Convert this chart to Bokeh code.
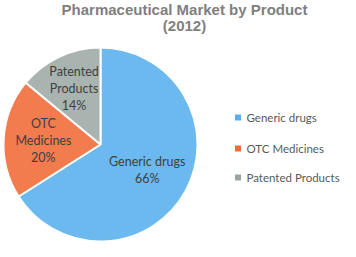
import math
from bokeh.plotting import figure
from bokeh.models import Range1d
from bokeh.core.properties import value
from bokeh.embed import file_html
from bokeh.resources import INLINE

# ---- data ----
categories = ["Generic drugs", "OTC Medicines", "Patented Products"]
shares = [66, 20, 14]
label_lines = [["Generic drugs"], ["OTC", "Medicines"], ["Patented", "Products"]]
title_lines = ["Pharmaceutical Market by Product", "(2012)"]

# ---- style ----
slice_colors = ["#6cb9ef", "#f27c4d", "#a9b4b1"]
legend_colors = ["#58aef0", "#ee6a3b", "#9aa5a2"]
label_radius_frac = [0.55, 0.59, 0.64]

W, H = 340, 241
p = figure(width=W, height=H, x_range=Range1d(0, W), y_range=Range1d(0, H),
           output_backend="svg", toolbar_location=None, min_border=0,
           x_axis_location=None, y_axis_location=None)
p.grid.visible = False
p.outline_line_color = None
p.background_fill_color = "white"
p.border_fill_color = "white"

cx, cy, r = 100, H - 144, 97

total = sum(shares)
cum = 0.0
starts, ends, mids = [], [], []
for s in shares:
    f = s / total
    starts.append(90 - (cum + f) * 360)
    ends.append(90 - cum * 360)
    mids.append(90 - (cum + f / 2) * 360)
    cum += f

p.wedge(x=[cx] * len(shares), y=[cy] * len(shares), radius=r,
        start_angle=starts, end_angle=ends, start_angle_units="deg", end_angle_units="deg",
        direction="anticlock", fill_color=slice_colors, line_color="white", line_width=2)

# data labels
lx, ly, lt = [], [], []
lh = 17
for i, (lines, s) in enumerate(zip(label_lines, shares)):
    a = math.radians(mids[i])
    x0 = cx + label_radius_frac[i] * r * math.cos(a)
    y0 = cy + label_radius_frac[i] * r * math.sin(a)
    all_lines = lines + [f"{s}%"]
    n = len(all_lines)
    for j, t in enumerate(all_lines):
        lx.append(x0)
        ly.append(y0 + ((n - 1) / 2 - j) * lh)
        lt.append(t)
p.text(x=lx, y=ly, text=lt, text_font=value("Lato"), text_font_size="12.5px",
       text_color="#404040", text_align="center", text_baseline="middle")

# title
p.text(x=[184, 184], y=[H - 9, H - 25], text=title_lines, text_font=value("Liberation Sans"),
       text_font_size="15px", text_font_style="bold", text_color="#808080",
       text_align="center", text_baseline="middle")

# legend
leg_y = [H - 117, H - 148, H - 177]
p.scatter(x=[237.5] * 3, y=leg_y, marker="square", size=6, fill_color=legend_colors, line_color=None)
p.text(x=[246] * 3, y=leg_y, text=categories, text_font=value("Lato"), text_font_size="11.5px",
       text_color="#595959", text_align="left", text_baseline="middle")

open("out.html", "w").write(file_html(p, INLINE))
